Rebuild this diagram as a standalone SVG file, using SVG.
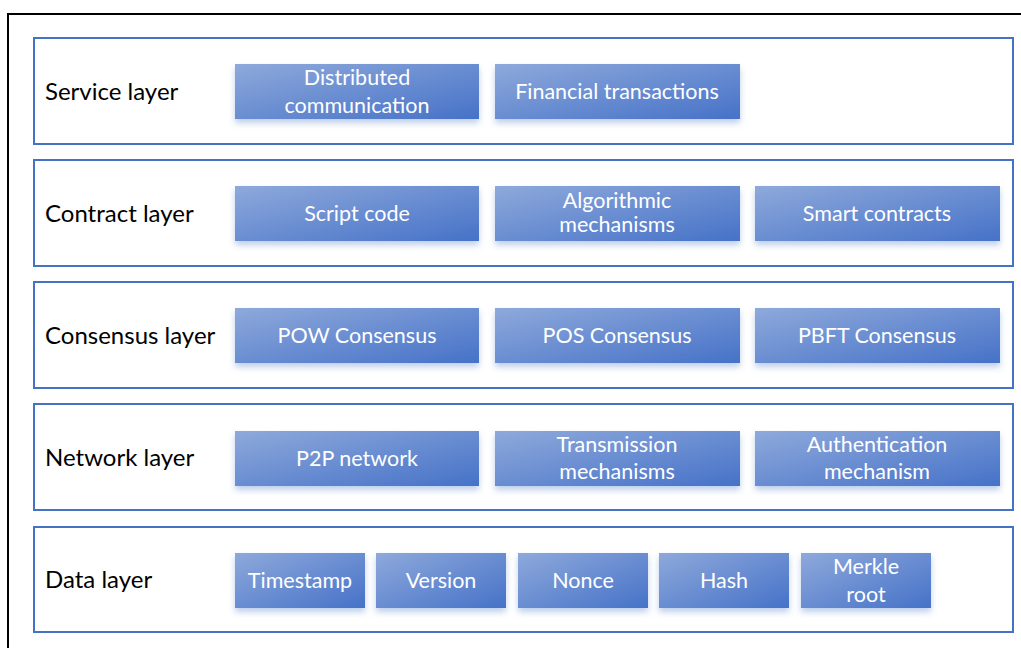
<svg xmlns="http://www.w3.org/2000/svg" width="1021" height="648" viewBox="0 0 1021 648">
<defs>
<linearGradient id="g" x1="0" y1="0" x2="1" y2="1">
<stop offset="0" stop-color="#8EA9DB"/>
<stop offset="1" stop-color="#4672C8"/>
</linearGradient>
<filter id="sh" x="-10%" y="-20%" width="120%" height="160%">
<feDropShadow dx="0" dy="4" stdDeviation="3" flood-color="#4472C4" flood-opacity="0.35"/>
</filter>
</defs>
<style>
.layer{fill:#fff;stroke:#4472C4;stroke-width:2}
.box{fill:url(#g);filter:url(#sh)}
.lbl{font-family:Lato,"Open Sans",sans-serif;font-size:24px;fill:#000}
.t{font-family:Lato,"Open Sans",sans-serif;font-size:21.5px;fill:#fff;text-anchor:middle}
</style>
<rect x="0" y="0" width="1021" height="648" fill="#fff"/>
<rect x="8" y="14" width="1030" height="650" fill="none" stroke="#000" stroke-width="2"/>
<g id="connectors"/>
<g id="service-layer">
<rect class="layer" x="34" y="38" width="979" height="106"/>
<text class="lbl" x="45" y="100">Service layer</text>
</g>
<g id="distributed-communication"><rect class="box" x="235" y="64" width="244" height="55"/><text class="t" x="357" y="85">Distributed</text><text class="t" x="357" y="113">communication</text></g>
<g id="financial-transactions"><rect class="box" x="495" y="64" width="245" height="55"/><text class="t" x="617" y="99">Financial transactions</text></g>
<g id="contract-layer">
<rect class="layer" x="34" y="160" width="979" height="106"/>
<text class="lbl" x="45" y="222">Contract layer</text>
</g>
<g id="script-code"><rect class="box" x="235" y="186" width="244" height="55"/><text class="t" x="357" y="221">Script code</text></g>
<g id="algorithmic-mechanisms"><rect class="box" x="495" y="186" width="245" height="55"/><text class="t" x="617" y="208">Algorithmic</text><text class="t" x="617" y="232">mechanisms</text></g>
<g id="smart-contracts"><rect class="box" x="755" y="186" width="245" height="55"/><text class="t" x="877" y="221">Smart contracts</text></g>
<g id="consensus-layer">
<rect class="layer" x="34" y="282" width="979" height="106"/>
<text class="lbl" x="45" y="344">Consensus layer</text>
</g>
<g id="pow"><rect class="box" x="235" y="308" width="244" height="55"/><text class="t" x="357" y="343">POW Consensus</text></g>
<g id="pos"><rect class="box" x="495" y="308" width="245" height="55"/><text class="t" x="617" y="343">POS Consensus</text></g>
<g id="pbft"><rect class="box" x="755" y="308" width="245" height="55"/><text class="t" x="877" y="343">PBFT Consensus</text></g>
<g id="network-layer">
<rect class="layer" x="34" y="404" width="979" height="106"/>
<text class="lbl" x="45" y="466">Network layer</text>
</g>
<g id="p2p"><rect class="box" x="235" y="431" width="244" height="55"/><text class="t" x="357" y="466">P2P network</text></g>
<g id="transmission"><rect class="box" x="495" y="431" width="245" height="55"/><text class="t" x="617" y="452">Transmission</text><text class="t" x="617" y="479">mechanisms</text></g>
<g id="authentication"><rect class="box" x="755" y="431" width="245" height="55"/><text class="t" x="877" y="452">Authentication</text><text class="t" x="877" y="479">mechanism</text></g>
<g id="data-layer">
<rect class="layer" x="34" y="527" width="979" height="105"/>
<text class="lbl" x="45" y="588">Data layer</text>
</g>
<g id="timestamp"><rect class="box" x="235" y="553" width="130" height="55"/><text class="t" x="300" y="588">Timestamp</text></g>
<g id="version"><rect class="box" x="376" y="553" width="130" height="55"/><text class="t" x="441" y="588">Version</text></g>
<g id="nonce"><rect class="box" x="518" y="553" width="130" height="55"/><text class="t" x="583" y="588">Nonce</text></g>
<g id="hash"><rect class="box" x="659" y="553" width="130" height="55"/><text class="t" x="724" y="588">Hash</text></g>
<g id="merkle"><rect class="box" x="801" y="553" width="130" height="55"/><text class="t" x="866" y="574">Merkle</text><text class="t" x="866" y="602">root</text></g>
</svg>
